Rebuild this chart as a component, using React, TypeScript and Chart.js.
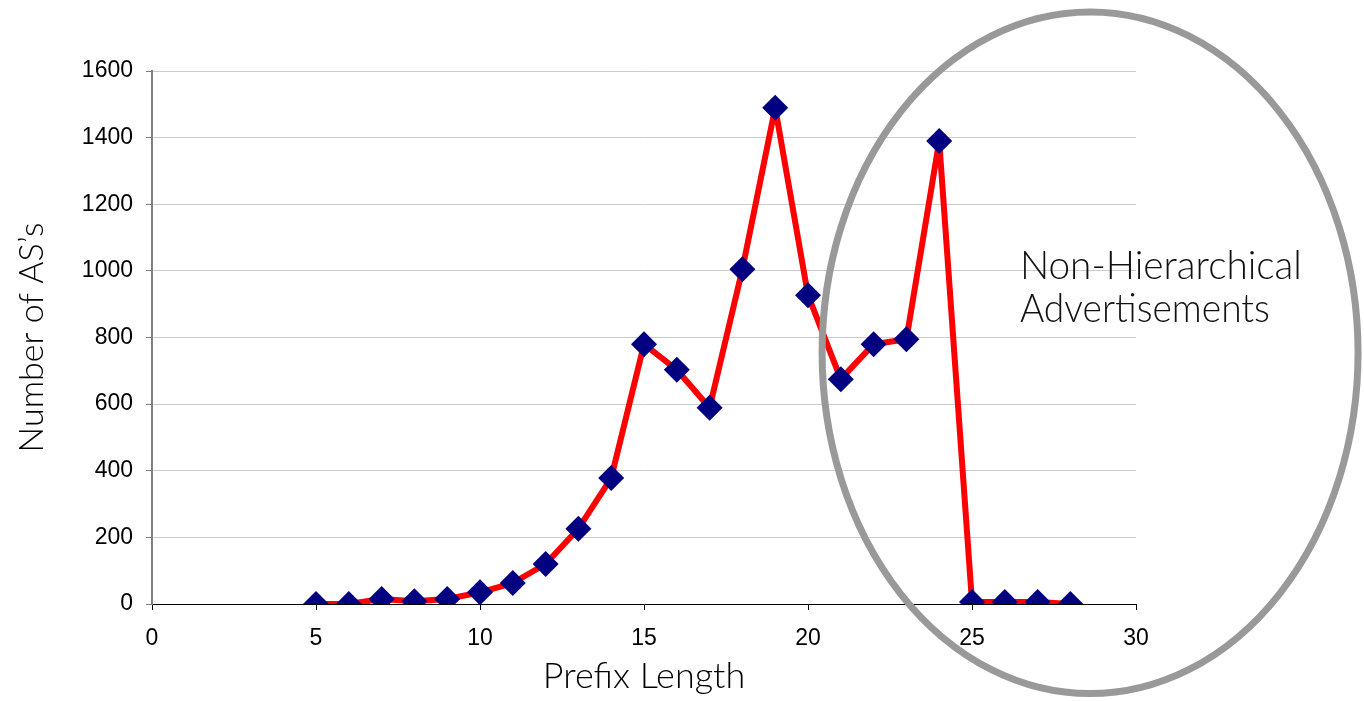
import React, { useEffect, useRef } from 'react';
import { Chart, registerables } from 'chart.js';

Chart.register(...registerables);

// ---- data ----
const prefixLengths = [5, 6, 7, 8, 9, 10, 11, 12, 13, 14, 15, 16, 17, 18, 19, 20, 21, 22, 23, 24, 25, 26, 27, 28];
const asCounts = [0, 0, 15, 8, 15, 35, 63, 120, 226, 378, 780, 703, 589, 1005, 1490, 927, 675, 780, 795, 1390, 6, 6, 6, 0];
const xTitle = 'Prefix Length';
const yTitle = 'Number of AS’s';
const annotationLines = ['Non-Hierarchical', 'Advertisements'];

// annotation placement (in data units)
const ellipseCenter = { x: 28.6, y: 754 };
const ellipseRadius = { x: 8.17, y: 1023 };
const annotationX = 26.46;
const annotationBaselines = [975, 847];

const handFont = '"Lato", "DejaVu Sans", sans-serif';
const tickFont = '"Liberation Sans", Arial, sans-serif';

const annotationPlugin = {
  id: 'nonHierarchical',
  afterDraw(chart: any) {
    const { ctx, scales } = chart;
    const xs = scales.x;
    const ys = scales.y;
    const cx = xs.getPixelForValue(ellipseCenter.x);
    const cy = ys.getPixelForValue(ellipseCenter.y);
    const rx = Math.abs(xs.getPixelForValue(ellipseCenter.x + ellipseRadius.x) - cx);
    const ry = Math.abs(ys.getPixelForValue(ellipseCenter.y + ellipseRadius.y) - cy);
    ctx.save();
    ctx.beginPath();
    ctx.ellipse(cx, cy, rx, ry, 0, 0, Math.PI * 2);
    ctx.strokeStyle = '#999999';
    ctx.lineWidth = 7;
    ctx.stroke();

    ctx.fillStyle = '#111111';
    ctx.font = `300 40px ${handFont}`;
    ctx.textAlign = 'left';
    ctx.textBaseline = 'alphabetic';
    const maxW = [282, 250];
    annotationLines.forEach((line, i) => {
      const px = xs.getPixelForValue(annotationX);
      const py = ys.getPixelForValue(annotationBaselines[i]);
      const w = ctx.measureText(line).width;
      if (w > maxW[i]) ctx.fillText(line, px, py, maxW[i]);
      else ctx.fillText(line, px, py);
    });
    ctx.restore();
  },
};

export default function App() {
  const canvasRef = useRef<HTMLCanvasElement | null>(null);

  useEffect(() => {
    const canvas = canvasRef.current;
    if (!canvas) return;
    const chart = new Chart(canvas, {
      type: 'line',
      data: {
        datasets: [
          {
            data: prefixLengths.map((x, i) => ({ x, y: asCounts[i] })),
            borderColor: '#ff0000',
            borderWidth: 6,
            borderJoinStyle: 'round',
            borderCapStyle: 'round',
            pointStyle: 'rectRot',
            pointRadius: 13,
            pointBackgroundColor: '#000080',
            pointBorderColor: '#000080',
            pointBorderWidth: 0,
            tension: 0,
            fill: false,
          },
        ],
      },
      options: {
        responsive: false,
        animation: false,
        layout: { padding: { top: 71, right: 228, bottom: 0, left: 0 } },
        plugins: {
          legend: { display: false },
          tooltip: { enabled: false },
        },
        scales: {
          x: {
            type: 'linear',
            min: 0,
            max: 30,
            ticks: {
              stepSize: 5,
              color: '#000',
              font: { family: tickFont, size: 23 },
              padding: 15,
              maxRotation: 0,
              callback: (v: any) => String(v),
            },
            grid: {
              drawOnChartArea: false,
              drawTicks: true,
              tickLength: 6,
              tickColor: '#000',
            },
            border: { color: '#000', width: 1 },
            title: {
              display: true,
              text: xTitle,
              color: '#000',
              font: { family: handFont, size: 36, weight: '300', lineHeight: 1 },
              padding: { top: 0, bottom: 7 },
            },
            afterFit(scale: any) {
              scale.height = 97;
            },
          },
          y: {
            min: 0,
            max: 1600,
            ticks: {
              stepSize: 200,
              color: '#000',
              font: { family: tickFont, size: 23 },
              padding: 13,
              callback: (v: any) => String(v),
            },
            grid: {
              color: '#cccccc',
              lineWidth: 1,
              tickLength: 6,
              tickColor: '#808080',
            },
            border: { color: '#808080', width: 2 },
            title: {
              display: true,
              text: yTitle,
              color: '#000',
              font: { family: handFont, size: 34, weight: '300', lineHeight: 1 },
              padding: { top: 15, bottom: 0 },
            },
            afterFit(scale: any) {
              scale.width = 152;
            },
          },
        },
      },
      plugins: [annotationPlugin],
    });
    return () => chart.destroy();
  }, []);

  return (
    <div style={{ position: 'absolute', left: 0, top: 0, width: 1364, height: 701, background: '#fff' }}>
      <canvas ref={canvasRef} width={1364} height={701} />
    </div>
  );
}
